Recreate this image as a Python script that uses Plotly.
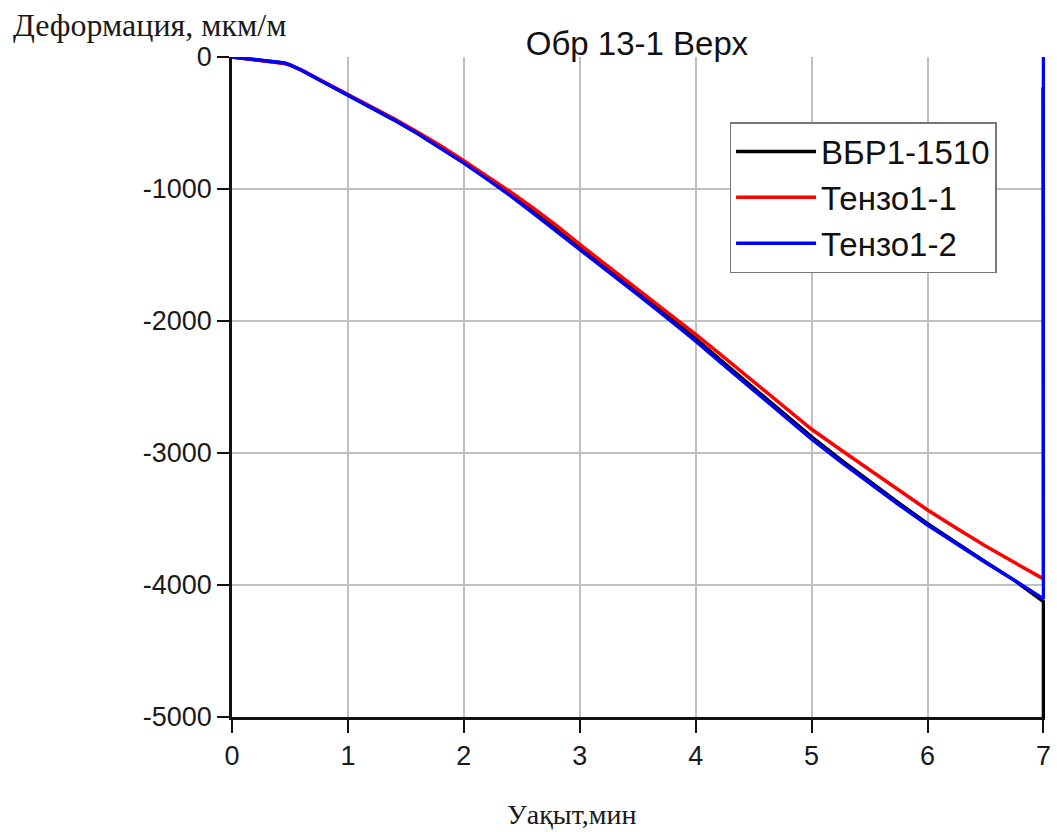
import plotly.graph_objects as go

# time, min
t = [0, 0.1, 0.2, 0.3, 0.4, 0.45, 0.5, 0.6, 0.8, 1.0, 1.2, 1.4, 1.6, 1.8, 2.0,
     2.2, 2.4, 2.6, 2.8, 3.0, 3.25, 3.5, 3.75, 4.0, 4.25, 4.5, 4.75, 5.0,
     5.25, 5.5, 5.75, 6.0, 6.25, 6.5, 6.75, 7.0]
# time of the final jump of each series
t_end = [7.0, 6.994, 7.0]

vbr = [0, -10, -18, -28, -38, -45, -60, -100, -195, -287, -380, -477, -578,
       -688, -800, -918, -1040, -1172, -1305, -1448, -1615, -1785, -1958,
       -2135, -2322, -2508, -2692, -2878, -3050, -3218, -3378, -3535, -3683,
       -3825, -3965, -4125, -5000]

tenzo1 = [0, -10, -22, -32, -42, -50, -62, -100, -192, -283, -373, -468, -568,
          -672, -785, -900, -1020, -1145, -1278, -1420, -1590, -1760, -1930,
          -2101, -2280, -2460, -2640, -2820, -2975, -3130, -3285, -3432,
          -3570, -3705, -3830, -3953, -230]

tenzo2 = [0, -10, -18, -28, -38, -45, -60, -100, -195, -287, -380, -478, -580,
          -690, -804, -925, -1050, -1185, -1320, -1462, -1630, -1800, -1975,
          -2152, -2340, -2525, -2710, -2895, -3065, -3230, -3390, -3545,
          -3690, -3830, -3965, -4105, 0]

names = ["ВБР1-1510", "Тензо1-1", "Тензо1-2"]
colors = ["#000000", "#ff0000", "#0000ff"]
# black and red on the grid axis, blue on the labelled overlay (drawn on top)
yrefs = ["y", "y", "y2"]

title_text = "Обр 13-1 Верх"
ytitle = "Деформация, мкм/м"
xtitle = "Уақыт,мин"
xticks = [0, 1, 2, 3, 4, 5, 6, 7]
yticks = [-5000, -4000, -3000, -2000, -1000, 0]
ytick_text = ["-5000", "-4000", "-3000", "-2000", "-1000", "0"]
ygrid = [-4000, -3000, -2000, -1000]
yrange = [-5000, 0]

fig = go.Figure()
for name, ys, c, te, ya in zip(names, [vbr, tenzo1, tenzo2], colors, t_end, yrefs):
    fig.add_trace(go.Scatter(x=t + [te], y=ys, mode="lines", name=name,
                             yaxis=ya, line=dict(color=c, width=3.5),
                             cliponaxis=False))

grid_color = "#c0c0c0"
tickfont = dict(size=27, color="#1a1a1a")

fig.update_layout(
    width=1057, height=832,
    margin=dict(l=232, r=6.5, t=57, b=115),
    paper_bgcolor="white", plot_bgcolor="white",
    font=dict(family="Liberation Sans, Arial, sans-serif", color="#111"),
    title=dict(text=title_text, x=0.498, xanchor="center", xref="paper",
               y=1 - 43 / 832, yanchor="middle",
               font=dict(size=33, family="Liberation Sans, Arial", color="#111")),
    showlegend=True,
    legend=dict(x=0.612, y=0.9015, xanchor="left", yanchor="top",
                bgcolor="white", bordercolor="#777", borderwidth=1.5,
                font=dict(size=33, family="Liberation Sans, Arial", color="#111"),
                itemwidth=80, tracegroupgap=0),
    xaxis=dict(range=[0, 7.013], tickvals=xticks, showgrid=True,
               gridcolor=grid_color, gridwidth=1.5, zeroline=False,
               showline=True, linecolor="#111", linewidth=2.5,
               ticks="outside", ticklen=13, tickwidth=2, tickcolor="#111",
               tickfont=tickfont),
    # grid-only axis
    yaxis=dict(range=yrange, tickvals=ygrid, showticklabels=False, ticks="",
               showgrid=True, gridcolor=grid_color, gridwidth=1.5,
               showline=False, zeroline=False),
    # labelled axis
    yaxis2=dict(range=yrange, overlaying="y", anchor="x", side="left",
                tickvals=yticks, ticktext=ytick_text, showgrid=False,
                zeroline=False, showline=True, linecolor="#111",
                linewidth=2.5, ticks="outside", ticklen=12, tickwidth=2,
                tickcolor="#111", tickfont=tickfont),
    annotations=[
        dict(text=ytitle, xref="paper", yref="paper", x=(10 - 232) / 818.5,
             y=(717 - 25) / 660, xanchor="left", yanchor="middle",
             showarrow=False,
             font=dict(size=32, family="Liberation Serif, Times New Roman",
                       color="#1a1a1a")),
        dict(text=xtitle, xref="paper", yref="paper", x=(574 - 232) / 818.5,
             y=(717 - 814) / 660, xanchor="center", yanchor="middle",
             showarrow=False,
             font=dict(size=28, family="Liberation Serif, Times New Roman",
                       color="#1a1a1a")),
    ],
)

fig.write_html("out.html",
               config={"displayModeBar": False},
               post_script="document.body.style.margin='0';"
                           "document.body.style.padding='0';")
